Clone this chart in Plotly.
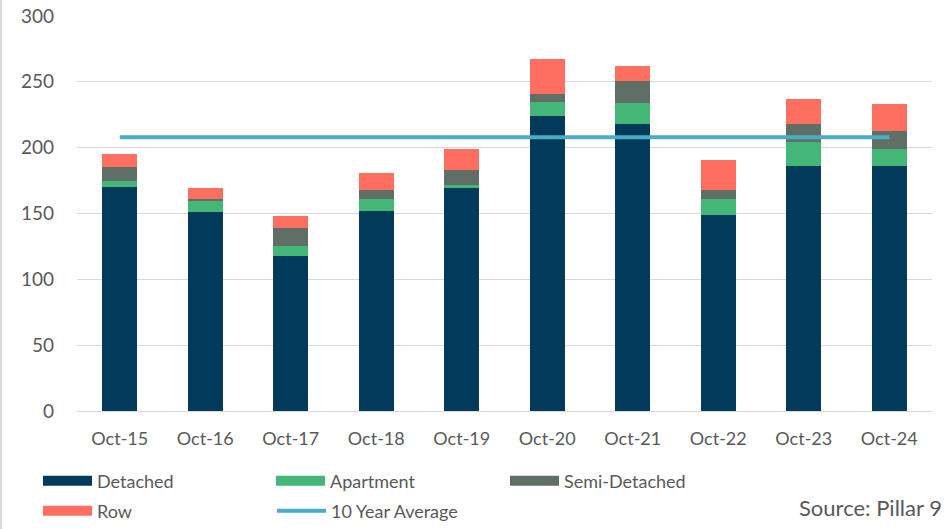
import plotly.graph_objects as go

categories = ["Oct-15", "Oct-16", "Oct-17", "Oct-18", "Oct-19", "Oct-20", "Oct-21", "Oct-22", "Oct-23", "Oct-24"]
detached = [170, 151, 118, 152, 169, 224, 218, 149, 186, 186]
apartment = [4.5, 9, 7, 9, 3, 11, 16, 12, 18, 13]
semi_detached = [10.5, 1, 14, 7, 11, 6, 17, 7, 14, 14]
row = [10.5, 8, 9, 13, 16, 26, 11, 23, 19, 20]
ten_year_average = [208] * len(categories)
y_ticks = [0, 50, 100, 150, 200, 250, 300]

FONT = "Lato"
GREY = "#595959"

W, H = 948, 529
ML, MR, MT, MB = 77, 16, 16, 118
PW, PH = W - ML - MR, H - MT - MB


def px_x(fx):  # figure-pixel x -> paper
    return (fx - ML) / PW


def px_y(fy):  # figure-pixel y -> paper
    return (H - MB - fy) / PH


fig = go.Figure()
series = [
    ("Detached", detached, "#023A5C", "legend", 38, 481),
    ("Apartment", apartment, "#44B678", "legend2", 271, 481),
    ("Semi-Detached", semi_detached, "#5F6F65", "legend3", 505, 481),
    ("Row", row, "#FF6F61", "legend4", 38, 511),
]
legends = {}
for name, vals, color, lg, lx, ly in series:
    fig.add_trace(go.Bar(x=categories, y=vals, name=name, marker=dict(color=color, line=dict(width=0)),
                         showlegend=False, legendgroup=name))
    # legend swatch (wide flat rectangle like the original)
    fig.add_trace(go.Scatter(x=[None], y=[None], name=name, mode="lines", legendgroup=name,
                             line=dict(color=color, width=11), legend=lg, hoverinfo="skip"))
    legends[lg] = (lx, ly)

fig.add_trace(go.Scatter(x=categories, y=ten_year_average, name="10 Year Average", mode="lines",
                         line=dict(color="#4BACC6", width=4), legend="legend5"))
legends["legend5"] = (272, 511)

legend_layout = {}
for lg, (lx, ly) in legends.items():
    legend_layout[lg] = dict(orientation="h", x=px_x(lx), y=px_y(ly), yanchor="middle", xanchor="left",
                             itemwidth=49, font=dict(size=18, color=GREY, family=FONT),
                             bgcolor="rgba(0,0,0,0)", borderwidth=0)

fig.update_layout(
    width=W, height=H,
    margin=dict(l=ML, r=MR, t=MT, b=MB, autoexpand=False, pad=0),
    barmode="stack", bargap=0.59,
    plot_bgcolor="white", paper_bgcolor="white",
    font=dict(family=FONT, size=18, color=GREY),
    xaxis=dict(showgrid=False, showline=False, zeroline=False, ticks="",
               tickfont=dict(size=18, color=GREY), ticklabelstandoff=15),
    yaxis=dict(range=[0, 300], tickvals=y_ticks, showgrid=True, gridcolor="#D9D9D9", gridwidth=1,
               zeroline=True, zerolinecolor="#D9D9D9", zerolinewidth=1, showline=False, ticks="",
               tickfont=dict(size=19, color=GREY), ticklabelstandoff=22, ticklabeloverflow="allow"),
    annotations=[dict(text="Source: Pillar 9", xref="paper", yref="paper", x=px_x(797), y=px_y(507),
                      xanchor="left", yanchor="middle", showarrow=False, font=dict(size=22, color=GREY))],
    shapes=[dict(type="line", xref="paper", yref="paper", x0=px_x(1), x1=px_x(1), y0=px_y(H), y1=px_y(0),
                 line=dict(color="#D9D9D9", width=2))],
    **legend_layout,
)

fig.write_html("out.html", config={"displayModeBar": False},
               post_script="document.body.style.margin='0';document.body.style.overflow='hidden';")
